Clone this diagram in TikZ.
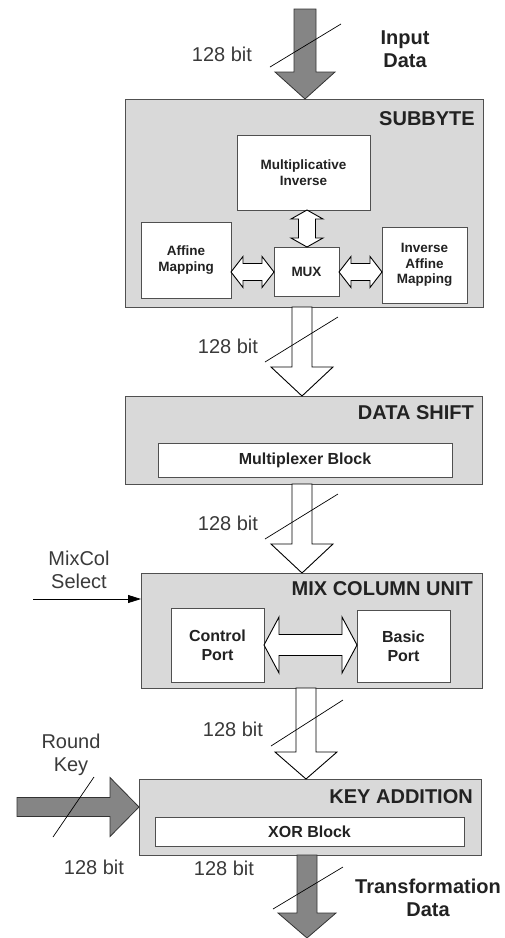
\documentclass[tikz,border=0pt]{standalone}
\usepackage{fontspec}
\setmainfont{Liberation Sans}
\usetikzlibrary{arrows.meta,calc}
\definecolor{boxfill}{HTML}{D9D9D9}
\definecolor{boxline}{HTML}{505050}
\definecolor{fatgray}{HTML}{858585}
\definecolor{txt}{HTML}{222222}
\definecolor{lbl}{HTML}{3A3A3A}
% vertical fat arrow: style, start, tip, shaft half, head half, head length
\newcommand\vfat[6]{\draw[#1] let \p1=(#2), \p2=(#3) in
  (\x1-#4pt,\y1) -- (\x1-#4pt,\y2+#6pt) -- (\x1-#5pt,\y2+#6pt) -- (\x1,\y2)
  -- (\x1+#5pt,\y2+#6pt) -- (\x1+#4pt,\y2+#6pt) -- (\x1+#4pt,\y1) -- cycle;}
% horizontal fat arrow (pointing right)
\newcommand\hfat[6]{\draw[#1] let \p1=(#2), \p2=(#3) in
  (\x1,\y1+#4pt) -- (\x2-#6pt,\y1+#4pt) -- (\x2-#6pt,\y1+#5pt) -- (\x2,\y1)
  -- (\x2-#6pt,\y1-#5pt) -- (\x2-#6pt,\y1-#4pt) -- (\x1,\y1-#4pt) -- cycle;}
% horizontal double arrow: style, left tip, right tip, shaft half, head half, head length
\newcommand\hdbl[6]{\draw[#1] let \p1=(#2), \p2=(#3) in
  (\x1,\y1) -- (\x1+#6pt,\y1+#5pt) -- (\x1+#6pt,\y1+#4pt) -- (\x2-#6pt,\y1+#4pt)
  -- (\x2-#6pt,\y1+#5pt) -- (\x2,\y1) -- (\x2-#6pt,\y1-#5pt) -- (\x2-#6pt,\y1-#4pt)
  -- (\x1+#6pt,\y1-#4pt) -- (\x1+#6pt,\y1-#5pt) -- cycle;}
% vertical double arrow: style, top tip, bottom tip, shaft half, head half, head length
\newcommand\vdbl[6]{\draw[#1] let \p1=(#2), \p2=(#3) in
  (\x1,\y1) -- (\x1+#5pt,\y1-#6pt) -- (\x1+#4pt,\y1-#6pt) -- (\x1+#4pt,\y2+#6pt)
  -- (\x1+#5pt,\y2+#6pt) -- (\x1,\y2) -- (\x1-#5pt,\y2+#6pt) -- (\x1-#4pt,\y2+#6pt)
  -- (\x1-#4pt,\y1-#6pt) -- (\x1-#5pt,\y1-#6pt) -- cycle;}
\begin{document}
\begin{tikzpicture}[x=1pt,y=-1pt,
  bigbox/.style={draw=boxline, fill=boxfill, line width=0.9pt, inner sep=0pt, outer sep=0pt, anchor=north west},
  inbox/.style={draw=boxline, fill=white, line width=0.8pt, inner sep=0pt, outer sep=0pt, anchor=north west, align=center, text=txt},
  small/.style={font=\fontsize{13.5}{15.5}\selectfont\bfseries},
  mid/.style={font=\fontsize{16}{19}\selectfont\bfseries},
  title/.style={anchor=east, inner sep=0pt, text=txt, font=\fontsize{20}{24}\selectfont\bfseries},
  bitlbl/.style={inner sep=0pt, text=lbl, font=\fontsize{20}{24}\selectfont},
  biglbl/.style={inner sep=0pt, align=center, text=txt, font=\fontsize{20}{23}\selectfont\bfseries},
  sidelbl/.style={inner sep=0pt, align=center, text=lbl, font=\fontsize{20}{23}\selectfont},
  grayarrow/.style={fill=fatgray, draw=black!80, line width=0.8pt},
  whitearrow/.style={fill=white, draw=black, line width=0.9pt},
  slash/.style={draw=black, line width=0.7pt}
]
\useasboundingbox (0,0) rectangle (505,938);

% ---- SUBBYTE ----
\node[bigbox, minimum width=358, minimum height=208] (sub) at (125,99) {};
\node[title] (subt) at (475,119) {SUBBYTE};
\node[inbox, small, minimum width=133, minimum height=75] (mi) at (237,135) {Multiplicative\\Inverse};
\node[inbox, small, minimum width=90, minimum height=76] (aff) at (141,222) {Affine\\Mapping};
\node[inbox, small, minimum width=65, minimum height=49] (mux) at (274,247) {MUX};
\node[inbox, small, minimum width=85, minimum height=76] (iaff) at (382,227) {Inverse\\Affine\\Mapping};

% ---- DATA SHIFT ----
\node[bigbox, minimum width=357, minimum height=88] (ds) at (125,396) {};
\node[title] (dst) at (474,413) {DATA SHIFT};
\node[inbox, mid, minimum width=294, minimum height=34] (mb) at (158,443) {Multiplexer Block};

% ---- MIX COLUMN ----
\node[bigbox, minimum width=341, minimum height=115] (mix) at (141,573) {};
\node[title] (mixt) at (473,589) {MIX COLUMN UNIT};
\node[inbox, mid, minimum width=93, minimum height=74] (cp) at (171,608) {Control\\Port};
\node[inbox, mid, minimum width=93, minimum height=72] (bp) at (357,610) {Basic\\Port};

% ---- KEY ADDITION ----
\node[bigbox, minimum width=342, minimum height=76] (ka) at (139,779) {};
\node[title] (kat) at (473,797) {KEY ADDITION};
\node[inbox, mid, minimum width=309, minimum height=29] (xor) at (155,817) {XOR Block};

% ---- free coordinates ----
\coordinate (in) at (305,9);
\coordinate (rk) at (17,807);
\coordinate (out) at (307,938);
\coordinate (mcs) at (33,599);

% ---- fat arrows ----
\vfat{grayarrow}{in}{305,0 |- sub.north}{11}{30}{27}
\vfat{whitearrow}{302,0 |- sub.south}{302,0 |- ds.north}{10}{31}{29}
\vfat{whitearrow}{302,0 |- ds.south}{302,0 |- mix.north}{10}{31}{29}
\vfat{whitearrow}{306,0 |- mix.south}{306,0 |- ka.north}{10}{31}{27}
\vfat{grayarrow}{307,0 |- ka.south}{out}{10}{29}{25}
\hfat{grayarrow}{rk}{ka.west |- rk}{9.5}{29.5}{29}

% ---- double arrows ----
\vdbl{whitearrow}{307,0 |- mi.south}{307,0 |- mux.north}{8.5}{16}{9}
\hdbl{whitearrow}{aff.east |- 0,272}{mux.west |- 0,272}{8.5}{15.5}{12}
\hdbl{whitearrow}{mux.east |- 0,272}{iaff.west |- 0,272}{8.5}{15.5}{12}
\hdbl{whitearrow}{cp.east |- 0,645}{bp.west |- 0,645}{10.5}{28}{15}

% ---- MixCol select ----
\draw[line width=0.8pt, -{Triangle[length=13pt,width=8pt]}] (mcs) -- (mcs -| mix.west);

% ---- slashes ----
\draw[slash] (270,67) -- (341,24);
\draw[slash] (265,362) -- (338,317);
\draw[slash] (265,539) -- (338,494);
\draw[slash] (271,746) -- (343,700);
\draw[slash] (273,909) -- (343,867);
\draw[slash] (53,837) -- (94,777);

% ---- labels ----
\node[bitlbl] (b1) at (222,54) {128 bit};
\node[bitlbl] (b2) at (228,346) {128 bit};
\node[bitlbl] (b3) at (228,523) {128 bit};
\node[bitlbl] (b4) at (233,729) {128 bit};
\node[bitlbl] (b5) at (94,867) {128 bit};
\node[bitlbl] (b6) at (224,868) {128 bit};
\node[biglbl] (indata) at (405,49) {Input\\Data};
\node[biglbl] (trdata) at (428,898) {Transformation\\Data};
\node[sidelbl] (mixsel) at (79,570) {MixCol\\Select};
\node[sidelbl] (rkey) at (71,755) {Round\\Key};
\end{tikzpicture}
\end{document}
